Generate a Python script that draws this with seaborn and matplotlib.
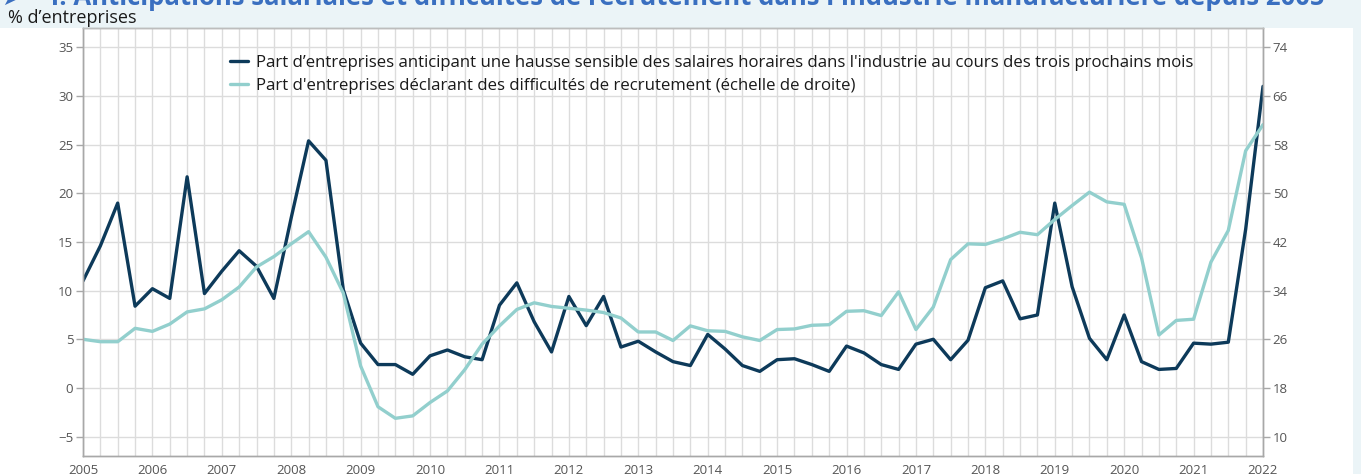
import numpy as np
import pandas as pd
import matplotlib
matplotlib.use("Agg")
import matplotlib.pyplot as plt
from matplotlib.patches import Rectangle
from matplotlib.ticker import MultipleLocator
import seaborn as sns

# Données trimestrielles 2005T1 - 2022T1
annee_debut = 2005
salaires = [
    11.0, 14.6, 19.0, 8.4,
    10.2, 9.2, 21.7, 9.7,
    12.0, 14.1, 12.5, 9.2,
    17.5, 25.4, 23.4, 10.1,
    4.6, 2.4, 2.4, 1.4,
    3.3, 3.9, 3.2, 2.9,
    8.5, 10.8, 6.8, 3.7,
    9.4, 6.4, 9.4, 4.2,
    4.8, 3.7, 2.7, 2.3,
    5.5, 4.0, 2.3, 1.7,
    2.9, 3.0, 2.4, 1.7,
    4.3, 3.6, 2.4, 1.9,
    4.5, 5.0, 2.9, 4.9,
    10.3, 11.0, 7.1, 7.5,
    19.0, 10.4, 5.1, 2.9,
    7.5, 2.7, 1.9, 2.0,
    4.6, 4.5, 4.7, 16.3,
    31.0,
]
recrutement = [
    26.0, 25.6, 25.6, 27.8,
    27.3, 28.5, 30.5, 31.0,
    32.5, 34.6, 37.9, 39.6,
    41.7, 43.7, 39.5, 33.6,
    21.6, 14.9, 13.0, 13.4,
    15.6, 17.5, 21.0, 25.2,
    28.2, 30.9, 32.0, 31.4,
    31.1, 30.8, 30.4, 29.5,
    27.2, 27.2, 25.8, 28.2,
    27.4, 27.3, 26.4, 25.8,
    27.6, 27.7, 28.3, 28.4,
    30.6, 30.7, 29.9, 33.8,
    27.6, 31.3, 39.1, 41.7,
    41.6, 42.5, 43.6, 43.2,
    45.7, 48.0, 50.2, 48.6,
    48.2, 39.4, 26.7, 29.1,
    29.3, 38.7, 43.9, 57.0,
    61.3,
]
label_salaires = ("Part d\u2019entreprises anticipant une hausse sensible des salaires "
                  "horaires dans l'industrie au cours des trois prochains mois")
label_recrut = ("Part d'entreprises déclarant des difficultés de recrutement "
                "(échelle de droite)")
titre = ("\u27a4    I. Anticipations salariales et difficultés de recrutement "
         "dans l'industrie manufacturière depuis 2005")

df = pd.DataFrame({
    "date": annee_debut + np.arange(len(salaires)) / 4,
    "salaires": salaires,
    "recrutement": recrutement,
})

sns.set_style("white")
plt.rcParams["font.family"] = ["Open Sans", "DejaVu Sans"]

FOND = "#ebf4f7"
BLEU_FONCE = "#0d3a5a"
BLEU_CLAIR = "#92cfcd"
GRILLE = "#dcdcdc"
AXE = "#a8a8a8"
TEXTE = "#555555"

W, H = 1361, 474
fig = plt.figure(figsize=(W / 100, H / 100), dpi=100, facecolor=FOND)
fig.patches.append(Rectangle((0, 0), 1353 / W, 1 - 28 / H, transform=fig.transFigure,
                             facecolor="white", edgecolor="none", zorder=-5))

ax = fig.add_axes([83 / W, 18 / H, (1263 - 83) / W, (456 - 28) / H])
ax2 = ax.twinx()
ax.set_facecolor("white")
ax2.patch.set_visible(False)

sns.lineplot(data=df, x="date", y="salaires", ax=ax, color=BLEU_FONCE,
             lw=2.4, label=label_salaires, legend=False)
sns.lineplot(data=df, x="date", y="recrutement", ax=ax2, color=BLEU_CLAIR,
             lw=2.4, label=label_recrut, legend=False)

ax.set_xlim(2005, 2022)
ax.set_ylim(-7, 37)
ax2.set_ylim(10 + (-7 + 5) * 1.6, 10 + (37 + 5) * 1.6)

ax.xaxis.set_minor_locator(MultipleLocator(0.25))
ax.set_xticks(range(2005, 2023))
ax.set_xticklabels([str(y) for y in range(2005, 2023)])
ax.set_yticks(range(-5, 36, 5))
ax2.set_yticks(range(10, 75, 8))

ax.grid(True, axis="y", color=GRILLE, lw=1)
ax.grid(True, axis="x", which="both", color=GRILLE, lw=1)
ax.set_axisbelow(True)

for a in (ax, ax2):
    a.set_xlabel("")
    a.set_ylabel("")
    for s in a.spines.values():
        s.set_color(AXE)
        s.set_linewidth(1)
    a.tick_params(axis="both", which="both", colors=AXE, labelcolor=TEXTE,
                  labelsize=9.5, length=5, width=1, direction="out", pad=2)
ax.tick_params(axis="x", which="both", length=5, pad=1)
ax2.spines["top"].set_color("#bdbdbd")

h1, l1 = ax.get_legend_handles_labels()
h2, l2 = ax2.get_legend_handles_labels()
ax2.legend(h1 + h2, l1 + l2, loc="upper left", frameon=False,
           bbox_to_anchor=(230 / W, 1 - 55 / H), bbox_transform=fig.transFigure,
           fontsize=12.1, handlelength=1.1, handletextpad=0.45,
           borderpad=0, borderaxespad=0, labelspacing=0.4,
           labelcolor="#1a1a1a")

fig.text(8 / W, 1 - 18 / H, "% d\u2019entreprises", fontsize=13, color="#1a1a1a",
         va="center", ha="left")
fig.text(2 / W, 1 - 5 / H, titre, fontsize=18.5, fontweight="bold", color="#3a6fc0",
         va="baseline", ha="left", family=["Open Sans", "DejaVu Sans"])

fig.savefig("out.png", dpi=100, facecolor=FOND)
